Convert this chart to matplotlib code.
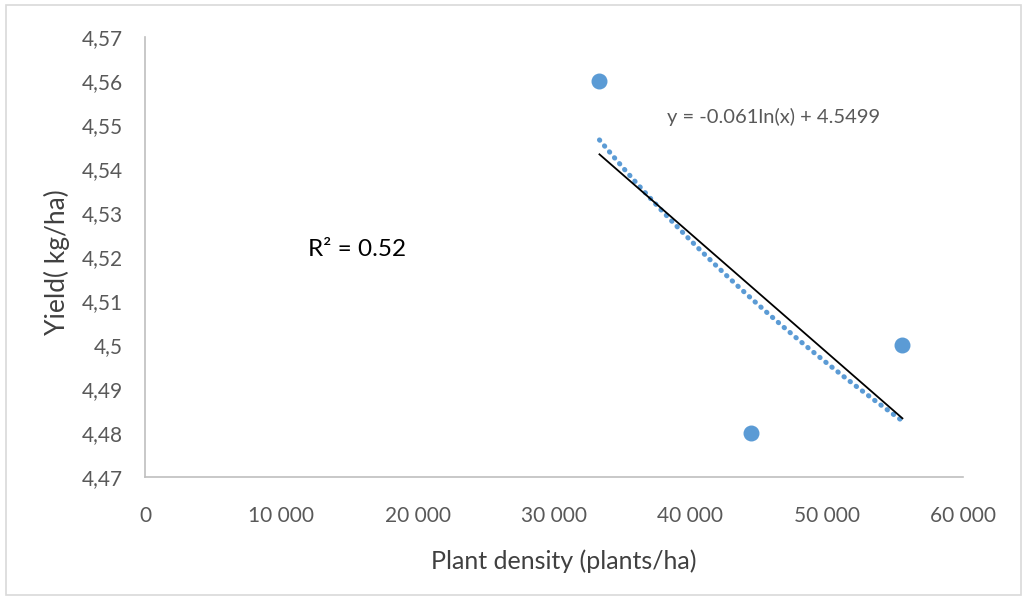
import matplotlib
matplotlib.use('Agg')
import matplotlib.pyplot as plt
import numpy as np
from matplotlib.ticker import FuncFormatter, MultipleLocator
from matplotlib.patches import Rectangle

plt.rcParams['font.family'] = ['Lato', 'DejaVu Sans']

# plant density (plants/ha) and yield
density = [33333, 44444, 55555]
yield_vals = [4.56, 4.48, 4.50]
eq_text = 'y = -0.061ln(x) + 4.5499'
r2_text = 'R² = 0.52'

x = np.array(density, dtype=float)
y = np.array(yield_vals)

fig = plt.figure(figsize=(10.27, 5.99), dpi=100)
ax = fig.add_axes([0.1412, 0.2037, 0.7965, 0.7345])

# frame round the whole chart
fig.patches.append(Rectangle((0.006, 0.006), 0.988, 0.986, transform=fig.transFigure,
                             fill=False, edgecolor='#d9d9d9', linewidth=1.2))

ax.scatter(x, y, s=110, color='#5b9bd5', zorder=3)

# logarithmic trend (dotted) and linear trend (black)
xs = np.linspace(x.min(), x.max(), 200)
b, a = np.polyfit(np.log(x), y, 1)
ax.plot(xs, a + b * np.log(xs), color='#5b9bd5', linewidth=3.6,
        linestyle=(0, (0.1, 1.45)), dash_capstyle='round', zorder=2)
m, c = np.polyfit(x, y, 1)
ax.plot(xs, m * xs + c, color='black', linewidth=1.3, zorder=2)

ax.text(38300, 4.5518, eq_text, fontsize=14.5, color='#595959', ha='left', va='center')
ax.text(15550, 4.5216, r2_text, fontsize=17.5, color='black', ha='center', va='center')

ax.set_xlim(0, 60000)
ax.set_ylim(4.47, 4.57)
ax.xaxis.set_major_locator(MultipleLocator(10000))
ax.yaxis.set_major_locator(MultipleLocator(0.01))
ax.xaxis.set_major_formatter(FuncFormatter(lambda v, p: f'{int(round(v)):,}'.replace(',', ' ')))
ax.yaxis.set_major_formatter(FuncFormatter(lambda v, p: f'{round(v, 2):g}'.replace('.', ',')))

for s in ['top', 'right']:
    ax.spines[s].set_visible(False)
for s in ['left', 'bottom']:
    ax.spines[s].set_color('#bfbfbf')
    ax.spines[s].set_linewidth(1.2)
ax.tick_params(length=0, labelsize=15, labelcolor='#595959')
ax.tick_params(axis='x', pad=21)
ax.tick_params(axis='y', pad=16)

ax.set_xlabel('Plant density (plants/ha)', fontsize=18, color='#404040')
ax.set_ylabel('Yield( kg/ha)', fontsize=19, color='#404040')
ax.xaxis.set_label_coords(0.512, -0.165)
ax.yaxis.set_label_coords(-0.092, 0.489)

fig.savefig('out.png', dpi=100)
